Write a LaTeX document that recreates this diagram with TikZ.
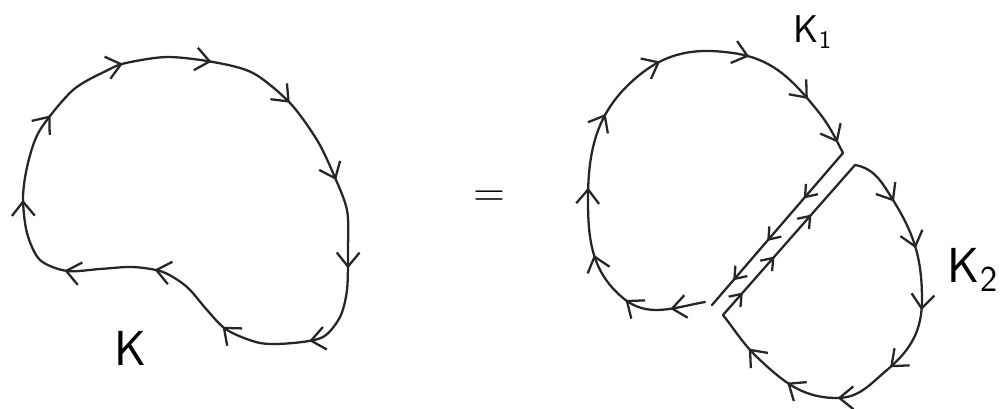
\documentclass[tikz,border=0pt]{standalone}
\usepackage{amsmath,amssymb}
\usetikzlibrary{arrows.meta, decorations.markings}

\begin{document}
\begin{tikzpicture}[x=0.02cm, y=-0.02cm]
    % 定义带箭头的样式
    \tikzset{
        arrow at/.style={
            postaction={decorate,
                decoration={markings,
                    mark=at position #1 with {\arrow{Straight Barb[length=8pt, width=13pt]}}}}
        },
        small arrow at/.style={
            postaction={decorate,
                decoration={markings,
                    mark=at position #1 with {\arrow{Straight Barb[length=6pt, width=9pt]}}}}
        },
        loopline/.style={draw=black!85, line width=1.3pt, line cap=round, line join=round},
        klabel/.style={font=\fontsize{28}{28}\selectfont\sffamily, inner sep=0pt}
    }
    \useasboundingbox (0,0) rectangle (1002,409);

    % 左侧曲线 K
    \draw[loopline, arrow at/.list={0.045,0.136,0.227,0.318,0.409,0.5,0.591,0.682,0.773,0.864,0.955}]
        plot[smooth cycle] coordinates {(126,63) (167,57) (213,62) (253,73) (290,103) (317,140)
        (333,173) (347,210) (348,250) (347,290) (340,317) (323,337) (293,343) (260,343)
        (227,330) (207,310) (187,287) (163,272) (133,267) (100,269) (67,271) (40,260)
        (27,233) (23,197) (28,163) (40,130) (73,90) (108,70)};
    \node[klabel] (labK) at (131,348) {K};

    % 等号
    \node[klabel, font=\fontsize{24}{24}\selectfont] (eq) at (489,199) {$=$};

    % 右侧的点
    \coordinate (a1) at (705,302);
    \coordinate (b1) at (623,298);
    \coordinate (c1) at (588,200);
    \coordinate (d1) at (637,77);
    \coordinate (e1) at (733,53);
    \coordinate (f1) at (817,110);
    \coordinate (top1) at (843,153);
    \coordinate (bot1) at (712,305);
    \coordinate (top2) at (855,165);
    \coordinate (p1) at (893,200);
    \coordinate (p2) at (922,300);
    \coordinate (p3) at (887,370);
    \coordinate (p4) at (837,398);
    \coordinate (p5) at (760,360);
    \coordinate (bot2) at (723,315);

    % 曲线 K_1
    \draw[loopline, arrow at/.list={0.06,0.14,0.235,0.35,0.48,0.61,0.765,0.89,0.98}]
        (a1) to[out=190, in=-40] (b1) to[out=140, in=-90] (c1) to[out=90, in=220] (d1)
        to[out=40, in=172] (e1) to[out=-8, in=129] (f1) to[out=-51, in=117] (top1);
    \draw[loopline, small arrow at/.list={0.3,0.58,0.84}] (top1) -- (bot1);
    \node[klabel, font=\fontsize{22}{22}\selectfont\sffamily] (labK1) at (813,32) {K$_{\mathsf{1}}$};

    % 曲线 K_2
    \draw[loopline, arrow at/.list={0.124,0.24,0.38,0.53,0.67,0.79,0.905}]
        (top2) to[out=-10, in=122] (p1) to[out=-58, in=90] (p2) to[out=-90, in=40] (p3)
        to[out=220, in=0] (p4) to[out=180, in=-43] (p5) to[out=137, in=-52] (bot2);
    \draw[loopline, small arrow at/.list={0.15,0.39,0.67}] (bot2) -- (top2);
    \node[klabel] (labK2) at (973,270) {K$_{\mathsf{2}}$};
\end{tikzpicture}
\end{document}
